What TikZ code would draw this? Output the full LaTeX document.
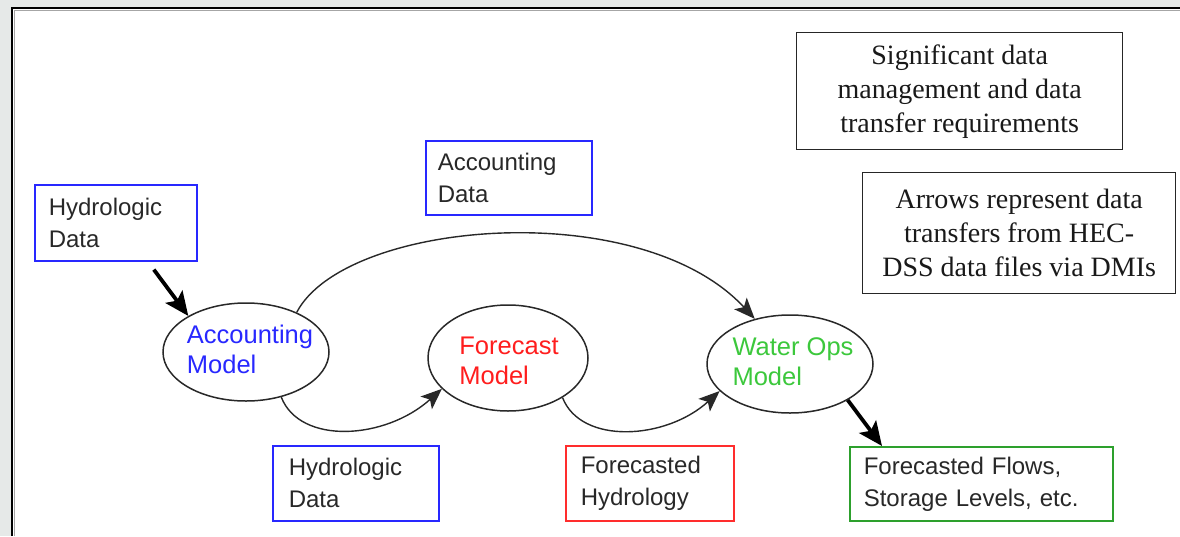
\documentclass[tikz,border=0pt]{standalone}
\usepackage{fontspec}
\setmainfont{Liberation Serif}
\newfontfamily\arialish{Liberation Sans}
\usetikzlibrary{shapes.geometric,arrows.meta}

\definecolor{pagebg}{RGB}{230,233,232}
\definecolor{boxblue}{RGB}{40,40,255}
\definecolor{boxred}{RGB}{255,45,45}
\definecolor{boxgreen}{RGB}{45,160,45}
\definecolor{txtblue}{RGB}{40,40,255}
\definecolor{txtred}{RGB}{255,30,30}
\definecolor{txtgreen}{RGB}{60,200,60}
\definecolor{inkgray}{RGB}{40,40,40}

\begin{document}
\begin{tikzpicture}[x=1pt,y=-1pt,
  databox/.style={draw, line width=1.6pt, anchor=north west, align=left,
    inner xsep=14pt, inner ysep=0pt, text=inkgray,
    font=\arialish\fontsize{24}{32}\selectfont},
  notebox/.style={draw=black!85, line width=1.3pt, anchor=north west,
    align=center, inner sep=0pt, text=black!90,
    font=\fontsize{28}{34}\selectfont},
  model/.style={ellipse, draw=inkgray, line width=1.5pt, inner sep=0pt},
  modeltext/.style={align=left, inner sep=0pt,
    font=\arialish\fontsize{25.5}{30}\selectfont},
  flow/.style={draw=inkgray, line width=1.4pt,
    -{Stealth[length=21pt,width=17pt,inset=5pt]}},
  feed/.style={draw=black, line width=3.8pt,
    -{Stealth[length=24pt,width=21pt,inset=5pt]}}
]
\useasboundingbox (0,0) rectangle (1180,536);

% page and panel
\fill[pagebg] (0,0) rectangle (1180,536);
\fill[white] (12,8) rectangle (1180,536);
\draw[black!35, line width=1pt] (14.5,536) -- (14.5,10.5) -- (1180,10.5);
\draw[black, line width=2pt] (12,536) -- (12,8) -- (1180,8);

% notes
\node[notebox, minimum width=326pt, minimum height=117pt] (note1) at (796,32)
  {Significant data\\management and data\\transfer requirements};
\node[notebox, minimum width=313pt, minimum height=121pt] (note2) at (862,172)
  {Arrows represent data\\transfers from HEC-\\DSS data files via DMIs};

% data boxes
\node[databox, draw=boxblue, minimum width=162pt, minimum height=76pt,
  text width=134pt] (hyd1) at (34,184) {Hydrologic\\Data};
\node[databox, draw=boxblue, minimum width=166pt, minimum height=74pt,
  inner xsep=12pt, text width=142pt] (accd) at (425,140) {Accounting\\Data};
\node[databox, draw=boxblue, minimum width=166pt, minimum height=75pt,
  inner xsep=16pt, text width=134pt] (hyd2) at (272,445) {Hydrologic\\Data};
\node[databox, draw=boxred, minimum width=168pt, minimum height=75pt,
  inner xsep=15pt, text width=138pt] (fhyd) at (565,445) {Forecasted\\Hydrology};
\node[databox, draw=boxgreen, minimum width=263pt, minimum height=74pt,
  text width=235pt] (flows) at (849,446) {Forecasted Flows,\\Storage Levels, etc.};

% models
\node[model, minimum width=166pt, minimum height=98pt] (acc) at (246,352) {};
\node[model, minimum width=160pt, minimum height=106pt] (fcst) at (508,358) {};
\node[model, minimum width=166pt, minimum height=98pt] (wops) at (790,364) {};
\node[modeltext, text=txtblue] (acctext) at (250,349) {Accounting\\Model};
\node[modeltext, text=txtred] (fcsttext) at (509,361) {Forecast\\Model};
\node[modeltext, text=txtgreen] (wopstext) at (793,362) {Water Ops\\Model};

% data transfers
\draw[feed] ([xshift=38pt,yshift=-8pt]hyd1.south) -- (acc.148.6);
\draw[flow] (acc.38.7) .. controls (345,220) and (640,195) .. (wops.128.4);
\draw[flow] (acc.-52.4) .. controls (300,445) and (385,440) .. (fcst.205.9);
\draw[flow] (fcst.-36.9) .. controls (581,445) and (666,440) .. (wops.201.4);
\draw[feed] (wops.-32.3) -- ([xshift=33pt]flows.north west);
\end{tikzpicture}
\end{document}
